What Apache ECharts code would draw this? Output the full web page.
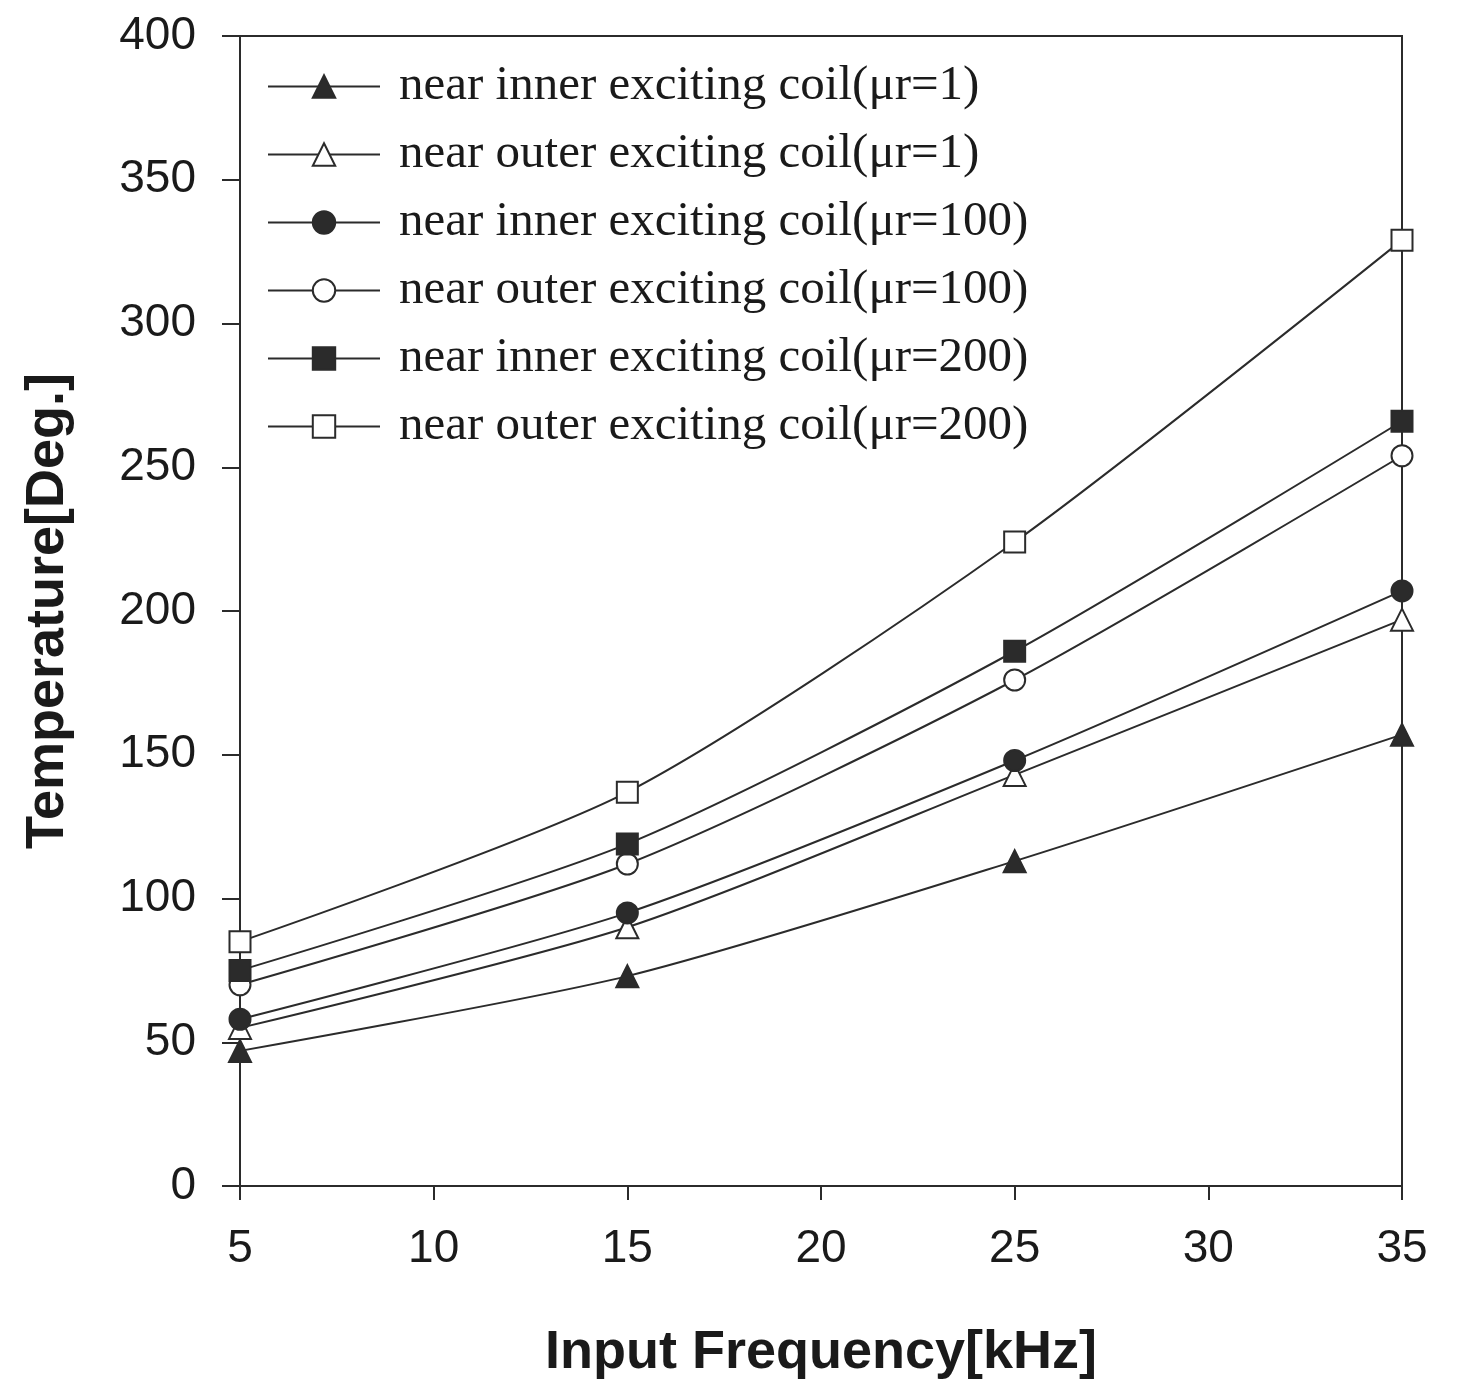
<!DOCTYPE html>
<html>
<head>
<meta charset="utf-8">
<script src="https://cdn.jsdelivr.net/npm/echarts@6/dist/echarts.min.js"></script>
<style>
  html, body { margin: 0; padding: 0; background: #fff; }
  #chart { width: 1460px; height: 1380px; }
</style>
</head>
<body>
<div id="chart"></div>
<script>
// 输入频率 (kHz)
var freq = [5, 15, 25, 35];

var names = [
  'near inner exciting coil(\u03bcr=1)',
  'near outer exciting coil(\u03bcr=1)',
  'near inner exciting coil(\u03bcr=100)',
  'near outer exciting coil(\u03bcr=100)',
  'near inner exciting coil(\u03bcr=200)',
  'near outer exciting coil(\u03bcr=200)'
];

// 温度数据
var innerMu1 = [47, 73, 113, 157];
var outerMu1 = [55, 90, 143, 197];
var innerMu100 = [58, 95, 148, 207];
var outerMu100 = [70, 112, 176, 254];
var innerMu200 = [75, 119, 186, 266];
var outerMu200 = [85, 137, 224, 329];

var yTicks = [0, 50, 100, 150, 200, 250, 300, 350, 400];

var ink = '#2b2b2b';

function pairs(vals) {
  return freq.map(function (f, i) { return [f, vals[i]]; });
}

function makeSeries(name, vals, symbol, filled) {
  return {
    name: name,
    type: 'line',
    data: pairs(vals),
    smooth: 0.25,
    symbol: symbol,
    symbolSize: symbol === 'triangle' ? 22 : 21,
    lineStyle: { color: ink, width: 2 },
    itemStyle: { color: filled ? ink : '#fff', borderColor: ink, borderWidth: 2 },
    emphasis: { disabled: true }
  };
}

var chart = echarts.init(document.getElementById('chart'));
chart.setOption({
  backgroundColor: '#fff',
  animation: false,
  grid: {
    left: 240, right: 58, top: 36, bottom: 194,
    outerBoundsMode: 'none',
    containLabel: false,
    show: true, borderColor: ink, borderWidth: 2
  },
  legend: {
    orient: 'vertical',
    left: 262, top: 57,
    itemWidth: 112, itemHeight: 28,
    itemGap: 19,
    data: names,
    textStyle: { fontFamily: 'Liberation Serif', fontSize: 49, color: '#1a1a1a', padding: [0, 0, 0, 14] }
  },
  xAxis: {
    type: 'value',
    min: 5, max: 35, interval: 5,
    name: 'Input Frequency[kHz]',
    nameLocation: 'middle',
    nameGap: 140,
    nameTextStyle: { fontFamily: 'Liberation Sans', fontWeight: 'bold', fontSize: 54, color: '#1a1a1a' },
    axisLine: { lineStyle: { color: ink, width: 2 } },
    axisTick: { inside: false, length: 14, lineStyle: { color: ink, width: 2 } },
    axisLabel: { fontFamily: 'Liberation Sans', fontSize: 46, color: '#1a1a1a', margin: 40 },
    splitLine: { show: false }
  },
  yAxis: {
    type: 'value',
    min: yTicks[0], max: yTicks[yTicks.length - 1], interval: 50,
    name: 'Temperature[Deg.]',
    nameLocation: 'middle',
    nameGap: 165,
    nameTextStyle: { fontFamily: 'Liberation Sans', fontWeight: 'bold', fontSize: 54, color: '#1a1a1a' },
    axisLine: { show: true, lineStyle: { color: ink, width: 2 } },
    axisTick: { show: true, inside: false, length: 18, lineStyle: { color: ink, width: 2 } },
    axisLabel: { fontFamily: 'Liberation Sans', fontSize: 46, color: '#1a1a1a', margin: 44 },
    splitLine: { show: false }
  },
  series: [
    makeSeries(names[0], innerMu1, 'triangle', true),
    makeSeries(names[1], outerMu1, 'triangle', false),
    makeSeries(names[2], innerMu100, 'circle', true),
    makeSeries(names[3], outerMu100, 'circle', false),
    makeSeries(names[4], innerMu200, 'rect', true),
    makeSeries(names[5], outerMu200, 'rect', false)
  ]
});
</script>
</body>
</html>
